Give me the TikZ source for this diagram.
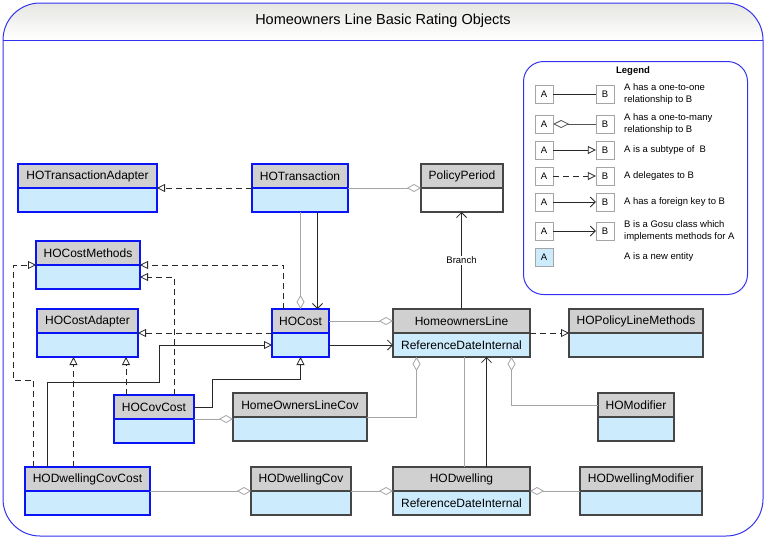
\documentclass[tikz,border=0pt]{standalone}
\usepackage{fontspec}
\setmainfont{Liberation Sans}
\usetikzlibrary{arrows.meta}
\definecolor{headgray}{RGB}{208,208,208}
\definecolor{bodyblue}{RGB}{204,235,252}
\definecolor{boxblue}{RGB}{10,20,245}
\definecolor{boxgray}{RGB}{70,70,70}
\definecolor{linegray}{RGB}{165,165,165}
\definecolor{linedark}{RGB}{40,40,40}
\definecolor{frameblue}{RGB}{50,50,240}
\definecolor{titletop}{RGB}{230,230,226}

\begin{document}
\begin{tikzpicture}[x=1pt, y=-1pt, font=\fontsize{12}{14}\selectfont]
                \tikzstyle{hd}=[draw=boxgray, line width=1.2pt, fill=headgray, anchor=north west, outer sep=0pt, inner sep=2pt, minimum height=24pt]
                \tikzstyle{bd}=[hd, fill=bodyblue]
                \tikzstyle{hl}=[draw=boxblue, line width=2.4pt]
                \tikzstyle{lbox}=[draw=linegray, fill=white, minimum size=18pt, inner sep=0pt, font=\fontsize{9.5}{11}\selectfont]
                \tikzstyle{ltext}=[anchor=west, align=left, inner sep=0pt, font=\fontsize{9.5}{12}\selectfont]
                \tikzstyle{one}=[draw=linegray, line width=0.8pt]
                \tikzstyle{many}=[one, -{Diamond[fill=white, length=14pt, width=8pt]}]
                \tikzstyle{sub}=[draw=linedark, line width=0.8pt, -{Triangle[open, length=8pt, width=8pt]}]
                \tikzstyle{deleg}=[sub, dash pattern=on 6pt off 4pt]
                \tikzstyle{fk}=[draw=linedark, line width=0.8pt, -{Straight Barb[length=5pt, width=10pt]}]

                \useasboundingbox (0,0) rectangle (767,539);
                \begin{scope}
                \clip[rounded corners=37pt] (3,3) rectangle (763,536);
                \shade[top color=titletop, bottom color=white] (3,3) rectangle (763,40);
                \end{scope}
                \draw[frameblue, line width=1pt, rounded corners=37pt] (3,3) rectangle (763,536);
                \draw[frameblue, line width=1pt] (3,40) -- (763,40);
                \node[font=\fontsize{14.5}{16}\selectfont] (title) at (383,21) {Homeowners Line Basic Rating Objects};

                \node[hd, hl, minimum width=139pt] (hotra) at (18,164) {HOTransactionAdapter};
                \node[bd, hl, minimum width=139pt] (hotra-b) at (hotra.south west) {};
                \node[hd, hl, minimum width=96pt] (hotr) at (252,164) {HOTransaction};
                \node[bd, hl, minimum width=96pt] (hotr-b) at (hotr.south west) {};
                \node[hd, hl, minimum width=104pt] (hocm) at (36,241) {HOCostMethods};
                \node[bd, hl, minimum width=104pt] (hocm-b) at (hocm.south west) {};
                \node[hd, hl, minimum width=101pt] (hoca) at (37,309) {HOCostAdapter};
                \node[bd, hl, minimum width=101pt] (hoca-b) at (hoca.south west) {};
                \node[hd, hl, minimum width=57pt] (hoc) at (272,309) {HOCost};
                \node[bd, hl, minimum width=57pt] (hoc-b) at (hoc.south west) {};
                \node[hd, hl, minimum width=80pt] (hocc) at (114,395) {HOCovCost};
                \node[bd, hl, minimum width=80pt] (hocc-b) at (hocc.south west) {};
                \node[hd, hl, minimum width=125pt] (hodcc) at (25,467) {HODwellingCovCost};
                \node[bd, hl, minimum width=125pt] (hodcc-b) at (hodcc.south west) {};
                \node[hd, minimum width=134pt] (holc) at (233,393) {HomeOwnersLineCov};
                \node[bd, minimum width=134pt] (holc-b) at (holc.south west) {};
                \node[hd, minimum width=100pt] (hodc) at (251,467) {HODwellingCov};
                \node[bd, minimum width=100pt] (hodc-b) at (hodc.south west) {};
                \node[hd, minimum width=82pt] (pp) at (421,164) {PolicyPeriod};
                \node[bd, fill=white, minimum width=82pt] (pp-b) at (pp.south west) {};
                \node[hd, minimum width=137pt] (hol) at (393,309) {HomeownersLine};
                \node[bd, minimum width=137pt] (hol-b) at (hol.south west) {ReferenceDateInternal};
                \node[hd, minimum width=134pt] (hoplm) at (569,309) {HOPolicyLineMethods};
                \node[bd, minimum width=134pt] (hoplm-b) at (hoplm.south west) {};
                \node[hd, minimum width=76pt] (hom) at (598,393) {HOModifier};
                \node[bd, minimum width=76pt] (hom-b) at (hom.south west) {};
                \node[hd, minimum width=137pt] (hod) at (393,467) {HODwelling};
                \node[bd, minimum width=137pt] (hod-b) at (hod.south west) {ReferenceDateInternal};
                \node[hd, minimum width=122pt] (hodm) at (580,467) {HODwellingModifier};
                \node[bd, minimum width=122pt] (hodm-b) at (hodm.south west) {};

                \coordinate (fk1) at ([xshift=17pt]hoc.north);
                \coordinate (c1) at ([xshift=-17pt]hoc.north);
                \coordinate (c2) at ([xshift=20pt]hocc.north);
                \coordinate (c3) at ([xshift=-54pt]hodcc.north);
                \coordinate (c4) at ([xshift=-28pt]hocc.north);
                \coordinate (c5) at ([xshift=-14pt]hodcc.north);
                \coordinate (c6) at ([xshift=-40pt]hodcc.north);
                \coordinate (c7) at ([xshift=-45pt]hol-b.south);
                \coordinate (c8) at ([xshift=50pt]hol-b.south);
                \coordinate (c9) at ([xshift=25pt]hod.north);
                \coordinate (c10) at ([xshift=3pt]hod.north);

                \draw[deleg] (hotr.south west) -- (hotra.south east);
                \draw[many] (hotr.south east) -- (pp.south west);
                \draw[many] (hotr-b.south -| hoc.north) -- (hoc.north);
                \draw[fk] (fk1 |- hotr-b.south) -- (fk1);
                \draw[deleg] (c1) |- (hocm.south east);
                \draw[deleg] (c2) |- (hocm-b.east);
                \draw[deleg] (c3) |- (13,380) |- (hocm.south west);
                \draw[deleg] (hoc.south west) -- (hoca.south east);
                \draw[deleg] (c4) -- (c4 |- hoca-b.south);
                \draw[deleg] (c5) -- (c5 |- hoca-b.south);
                \draw[sub] (c6) |- (159,382) |- (hoc-b.west);
                \draw[sub] (hocc.east) -| (212,379) -| (hoc-b.south);
                \draw[many] (hocc.south east) -- (hocc.south east -| holc.south west);
                \draw[many] (holc.south east) -| (c7);
                \draw[many] (hoc.east) -- (hol.west);
                \draw[fk] (hoc-b.east) -- (hol-b.west);
                \draw[fk] (hol.north) -- (hol.north |- pp-b.south) node[midway, fill=white, inner sep=1pt, font=\fontsize{9.5}{11}\selectfont] {Branch};
                \draw[deleg] (hol.south east) -- (hoplm.south west);
                \draw[many] (hom.west) -| (c8);
                \draw[fk] (c9) -- (c9 |- hol-b.south);
                \draw[one] (c10) -- (c10 |- hol-b.south);
                \draw[many] (hodcc.south east) -- (hodc.south west);
                \draw[many] (hodc.south east) -- (hod.south west);
                \draw[many] (hodm.south west) -- (hod.south east);

                \node[draw=frameblue, line width=1pt, rounded corners=20pt, minimum width=224pt, minimum height=233pt, anchor=north west] (lgd) at (523,61) {};
                \node[font=\bfseries\fontsize{9.5}{11}\selectfont] (lgt) at (633,71) {Legend};
                \node[lbox] (la1) at (544,94) {A};
                \node[lbox] (lb1) at (605,94) {B};
                \node[ltext] (lt1) at (624,94) {A has a one-to-one\\relationship to B};
                \node[lbox] (la2) at (544,124) {A};
                \node[lbox] (lb2) at (605,124) {B};
                \node[ltext] (lt2) at (624,124) {A has a one-to-many\\relationship to B};
                \node[lbox] (la3) at (544,150) {A};
                \node[lbox] (lb3) at (605,150) {B};
                \node[ltext] (lt3) at (624,150) {A is a subtype of \ B};
                \node[lbox] (la4) at (544,176) {A};
                \node[lbox] (lb4) at (605,176) {B};
                \node[ltext] (lt4) at (624,176) {A delegates to B};
                \node[lbox] (la5) at (544,202) {A};
                \node[lbox] (lb5) at (605,202) {B};
                \node[ltext] (lt5) at (624,202) {A has a foreign key to B};
                \node[lbox] (la6) at (544,231) {A};
                \node[lbox] (lb6) at (605,231) {B};
                \node[ltext] (lt6) at (624,231) {B is a Gosu class which\\implements methods for A};
                \node[lbox, fill=bodyblue] (la7) at (544,257) {A};
                \node[ltext] (lt7) at (624,257) {A is a new entity};

                \draw[draw=linedark, line width=0.8pt] (la1) -- (lb1);
                \draw[draw=linedark!80, line width=0.8pt, {Diamond[fill=white, length=16pt, width=8pt]}-] (la2) -- (lb2);
                \draw[sub] (la3) -- (lb3);
                \draw[deleg] (la4) -- (lb4);
                \draw[fk] (la5) -- (lb5);
                \draw[fk] (la6) -- (lb6);
            \end{tikzpicture}
\end{document}
